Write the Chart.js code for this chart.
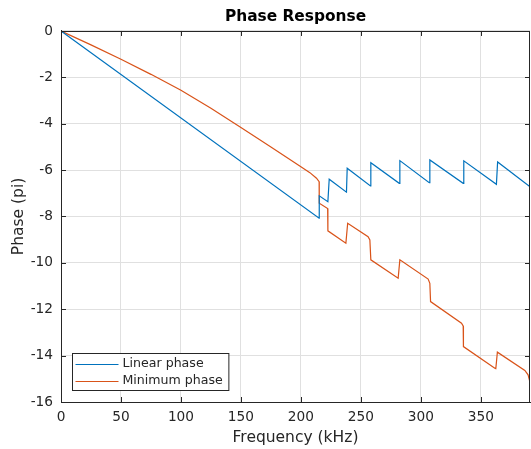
<!DOCTYPE html>
<html>
<head>
<meta charset="utf-8">
<script src="https://cdn.jsdelivr.net/npm/chart.js@4/dist/chart.umd.min.js"></script>
<style>
html,body{margin:0;padding:0;background:#fff;}
canvas{display:block;}
</style>
</head>
<body>
<canvas id="c" width="531" height="449"></canvas>
<script>
// ---- data ----
const linFreq  = [0, 215.2, 215.3, 222.5, 223.6, 238.0, 238.6, 258.0, 258.3, 282.0, 282.5, 307.0, 307.5, 335.3, 335.8, 363.0, 364.0, 390.8, 391.0];
const linPhase = [0, -8.07, -7.11, -7.36, -6.39, -6.95, -5.92, -6.68, -5.68, -6.57, -5.59, -6.54, -5.56, -6.57, -5.60, -6.61, -5.65, -6.71, -6.25];

const minFreq  = [0, 25, 50, 75, 100, 125, 150, 175, 200, 207.5, 213, 215.2, 215.3, 222.3, 222.5, 237.5, 239.0, 256.0, 257.5, 258.3, 281.1, 282.5, 306.1, 307.5, 308.1, 333.9, 335.3, 335.5, 361.7, 362.5, 363.8, 386.7, 389.4, 391.0];
const minPhase = [0, -0.60, -1.22, -1.87, -2.56, -3.33, -4.16, -5.00, -5.86, -6.11, -6.35, -6.50, -7.43, -7.66, -8.62, -9.15, -8.29, -8.87, -9.01, -9.87, -10.66, -9.87, -10.70, -10.88, -11.67, -12.60, -12.72, -13.61, -14.54, -14.56, -13.85, -14.64, -14.83, -15.15];

const xTicks = [0, 50, 100, 150, 200, 250, 300, 350];
const yTicks = [-16, -14, -12, -10, -8, -6, -4, -2, 0];
const seriesNames = ['Linear phase', 'Minimum phase'];

const FONT = "'DejaVu Sans', sans-serif";
const AX = '#262626';

function pts(xs, ys){ return xs.map((x,i)=>({x:x, y:ys[i]})); }

const framePlugin = {
  id: 'frame',
  afterDatasetsDraw(chart){
    const {ctx, chartArea:a, scales} = chart;
    ctx.save();
    ctx.strokeStyle = AX;
    ctx.lineWidth = 1;
    ctx.beginPath();
    ctx.rect(Math.round(a.left)+0.5, Math.round(a.top)+0.5, Math.round(a.right-a.left)-1, Math.round(a.bottom-a.top));
    ctx.stroke();
    const tl = 5;
    ctx.beginPath();
    scales.x.ticks.forEach(t=>{
      const px = Math.round(scales.x.getPixelForValue(t.value))+0.5;
      ctx.moveTo(px, a.bottom); ctx.lineTo(px, a.bottom - tl);
      ctx.moveTo(px, a.top); ctx.lineTo(px, a.top + tl);
    });
    scales.y.ticks.forEach(t=>{
      const py = Math.round(scales.y.getPixelForValue(t.value))+0.5;
      ctx.moveTo(a.left, py); ctx.lineTo(a.left + tl, py);
      ctx.moveTo(a.right, py); ctx.lineTo(a.right - tl, py);
    });
    ctx.stroke();
    ctx.restore();
  },
  afterDraw(chart){
    const {ctx, chartArea:a} = chart;
    ctx.save();
    ctx.font = "12.6px " + FONT;
    const textW = Math.max(...chart.data.datasets.map(d=>ctx.measureText(d.label).width));
    const bx = Math.round(a.left) + 11.5, by = Math.round(a.bottom) - 48.5;
    const lineLen = 43, gap = 4, padL = 3, padR = 6;
    const bw = padL + lineLen + gap + textW + padR;
    const bh = 37;
    ctx.fillStyle = '#fff';
    ctx.fillRect(bx, by, bw, bh);
    ctx.strokeStyle = AX;
    ctx.lineWidth = 1;
    ctx.strokeRect(bx, by, bw, bh);
    chart.data.datasets.forEach((d,i)=>{
      const y = by + 10.5 + i*16.5;
      ctx.strokeStyle = d.borderColor;
      ctx.lineWidth = 1.2;
      ctx.beginPath();
      ctx.moveTo(bx + padL, Math.round(y)+0.5);
      ctx.lineTo(bx + padL + lineLen, Math.round(y)+0.5);
      ctx.stroke();
      ctx.fillStyle = AX;
      ctx.textBaseline = 'middle';
      ctx.textAlign = 'left';
      ctx.fillText(d.label, bx + padL + lineLen + gap, y);
    });
    ctx.restore();
  }
};

new Chart(document.getElementById('c'), {
  type: 'line',
  data: {
    datasets: [
      {label: seriesNames[0], data: pts(linFreq, linPhase), borderColor: '#0072BD', borderWidth: 1.2, pointRadius: 0, tension: 0, fill: false},
      {label: seriesNames[1], data: pts(minFreq, minPhase), borderColor: '#D95319', borderWidth: 1.2, pointRadius: 0, tension: 0, fill: false}
    ]
  },
  options: {
    responsive: false,
    animation: false,
    devicePixelRatio: 1,
    layout: {padding: {left: 0, right: 1, top: 0, bottom: 0}},
    plugins: {
      legend: {display: false},
      tooltip: {enabled: false},
      title: {
        display: true, text: 'Phase Response', color: '#000', fullSize: false,
        font: {family: FONT, size: 15.4, weight: 'bold'},
        padding: {top: 7.75, bottom: 4.75}
      }
    },
    scales: {
      x: {
        type: 'linear', min: 0, max: 391,
        afterBuildTicks: s => { s.ticks = xTicks.map(v=>({value: v})); },
        afterFit: s => { s.height = 47; },
        grid: {color: '#e0e0e0', drawTicks: false},
        border: {color: AX},
        ticks: {padding: 7, color: AX, font: {family: FONT, size: 13.7}, maxRotation: 0, autoSkip: false},
        title: {display: true, text: 'Frequency (kHz)', color: AX, font: {family: FONT, size: 15.5}, padding: {top: 0, bottom: 1.7}}
      },
      y: {
        type: 'linear', min: -16, max: 0,
        afterBuildTicks: s => { s.ticks = yTicks.map(v=>({value: v})); },
        afterFit: s => { s.width = 61; },
        grid: {color: '#e0e0e0', drawTicks: false},
        border: {color: AX},
        ticks: {padding: 8, color: AX, font: {family: FONT, size: 13.7}, autoSkip: false},
        title: {display: true, text: 'Phase (pi)', color: AX, font: {family: FONT, size: 15.5}, padding: {top: 9.2, bottom: 0}}
      }
    }
  },
  plugins: [framePlugin]
});
</script>
</body>
</html>
